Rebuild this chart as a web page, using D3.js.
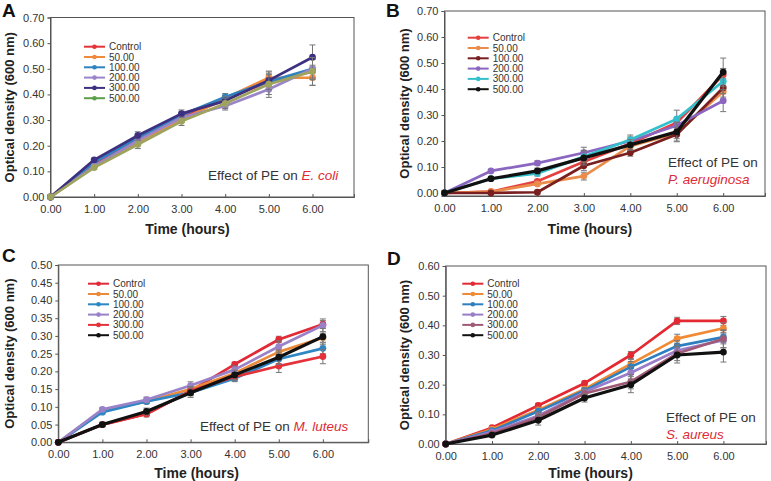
<!DOCTYPE html>
<html><head><meta charset="utf-8">
<script src="https://cdn.jsdelivr.net/npm/d3@7"></script>
<style>
html,body{margin:0;padding:0;background:#fff;}
svg{display:block;font-family:"Liberation Sans",Arial,sans-serif;}
</style></head>
<body>
<svg id="chart" width="771" height="481"></svg>
<script>
// ---------- data ----------
const hours = [0, 1, 2, 3, 4, 5, 6];
const seriesNames = ["Control", "50.00", "100.00", "200.00", "300.00", "500.00"];
const xTickLabels = ["0.00", "1.00", "2.00", "3.00", "4.00", "5.00", "6.00"];

// Panel A: E. coli
const aControl = [0, 0.13, 0.23, 0.31, 0.38, 0.45, 0.49];
const a50      = [0, 0.12, 0.21, 0.30, 0.385, 0.465, 0.465];
const a100     = [0, 0.135, 0.23, 0.32, 0.39, 0.45, 0.50];
const a200     = [0, 0.12, 0.22, 0.31, 0.355, 0.42, 0.50];
const a300     = [0, 0.145, 0.24, 0.325, 0.375, 0.455, 0.545];
const a500     = [0, 0.115, 0.205, 0.295, 0.365, 0.44, 0.49];
const aErr     = [0, 0.005, 0.012, 0.012, 0.015, 0.03, 0.04];
const aYTicks  = [0, 0.1, 0.2, 0.3, 0.4, 0.5, 0.6, 0.7];

// Panel B: P. aeruginosa
const bControl = [0, 0.005, 0.045, 0.12, 0.19, 0.27, 0.455];
const b50      = [0, 0.005, 0.035, 0.065, 0.18, 0.23, 0.39];
const b100     = [0, 0.0, 0.003, 0.105, 0.155, 0.225, 0.405];
const b200     = [0, 0.085, 0.115, 0.155, 0.20, 0.26, 0.355];
const b300     = [0, 0.055, 0.075, 0.14, 0.205, 0.285, 0.43];
const b500     = [0, 0.055, 0.085, 0.135, 0.185, 0.235, 0.465];
const bErr     = [0, 0.005, 0.008, 0.02, 0.015, 0.028, 0.04];
const bYTicks  = [0, 0.1, 0.2, 0.3, 0.4, 0.5, 0.6, 0.7];

// Panel C: M. luteus
const cControl = [0, 0.05, 0.08, 0.145, 0.22, 0.29, 0.333];
const c50      = [0, 0.09, 0.115, 0.15, 0.195, 0.255, 0.295];
const c100     = [0, 0.085, 0.115, 0.14, 0.18, 0.235, 0.265];
const c200     = [0, 0.093, 0.12, 0.16, 0.205, 0.27, 0.33];
const c300     = [0, 0.05, 0.08, 0.145, 0.185, 0.215, 0.242];
const c500     = [0, 0.05, 0.087, 0.14, 0.19, 0.24, 0.298];
const cErr     = [0, 0.005, 0.007, 0.01, 0.01, 0.015, 0.017];
const cYTicks  = [0, 0.05, 0.1, 0.15, 0.2, 0.25, 0.3, 0.35, 0.4, 0.45, 0.5];

// Panel D: S. aureus
const dControl = [0, 0.055, 0.13, 0.205, 0.30, 0.415, 0.415];
const d50      = [0, 0.05, 0.115, 0.185, 0.27, 0.355, 0.39];
const d100     = [0, 0.045, 0.11, 0.18, 0.26, 0.33, 0.36];
const d200     = [0, 0.04, 0.095, 0.175, 0.24, 0.315, 0.35];
const d300     = [0, 0.035, 0.09, 0.17, 0.21, 0.305, 0.355];
const d500     = [0, 0.03, 0.08, 0.155, 0.20, 0.30, 0.31];
const dErr     = [0, 0.005, 0.012, 0.01, 0.02, 0.02, 0.025];
const dYTicks  = [0, 0.1, 0.2, 0.3, 0.4, 0.5, 0.6];

// ---------- layout / style ----------
const svg = d3.select("#chart");
const panels = [
  { letter: "A", lx: 2, ly: 17, series: [aControl, a50, a100, a200, a300, a500], err: aErr, yTicks: aYTicks,
    colors: ["#e3343a", "#f08a3c", "#2f83c0", "#9b85c9", "#3d3080", "#9ea45e"],
    legendColors: ["#e3343a", "#f08a3c", "#2f83c0", "#9b85c9", "#3d3080", "#5d9e4a"],
    x0: 50.5, x1: 354, xMax: 6.95, yTop: 17.5, yBot: 197, yMin: 0, yMax: 0.7,
    legX: 84, legY: 46.7, titleX: 9, timeY: 234,
    note: [["Effect of PE on ", "E. coli"]], noteX: 208, noteY: 180 },
  { letter: "B", lx: 386, ly: 17, series: [bControl, b50, b100, b200, b300, b500], err: bErr, yTicks: bYTicks,
    colors: ["#e44040", "#ea8c4b", "#7a1f1f", "#8a66c0", "#33c0cc", "#111111"],
    x0: 444.5, x1: 765, xMax: 6.9, yTop: 11, yBot: 196, yMin: -0.0115, yMax: 0.7,
    legX: 467.7, legY: 37.7, titleX: 404, timeY: 234,
    note: [["Effect of PE on", ""], ["", "P. aeruginosa"]], noteX: 668, noteY: 167 },
  { letter: "C", lx: 2, ly: 262, series: [cControl, c50, c100, c200, c300, c500], err: cErr, yTicks: cYTicks,
    colors: ["#e02a36", "#ea8a3a", "#2e87c5", "#9a82c8", "#e3323a", "#111111"],
    x0: 58.3, x1: 368.3, xMax: 7.03, yTop: 265, yBot: 442.3, yMin: 0, yMax: 0.5,
    legX: 88, legY: 283.7, titleX: 9, timeY: 478,
    note: [["Effect of PE on ", "M. luteus"]], noteX: 200, noteY: 431 },
  { letter: "D", lx: 387, ly: 265, series: [dControl, d50, d100, d200, d300, d500], err: dErr, yTicks: dYTicks,
    colors: ["#e32a33", "#f08a35", "#2e7fc0", "#9a7cc8", "#a05a75", "#111111"],
    x0: 445.7, x1: 766, xMax: 6.92, yTop: 266, yBot: 444, yMin: 0, yMax: 0.6,
    legX: 462.3, legY: 283.7, titleX: 404, timeY: 478,
    note: [["Effect of PE on", ""], ["", "S. aureus"]], noteX: 666, noteY: 422 }
];

panels.forEach(p => {
  const g = svg.append("g");
  const x = d3.scaleLinear().domain([0, p.xMax]).range([p.x0, p.x1]);
  const y = d3.scaleLinear().domain([p.yMin, p.yMax]).range([p.yBot, p.yTop]);

  // frame
  g.append("rect").attr("x", p.x0).attr("y", p.yTop)
    .attr("width", p.x1 - p.x0).attr("height", p.yBot - p.yTop)
    .attr("fill", "none").attr("stroke", "#555").attr("stroke-width", 1);

  // axes
  const xAxis = d3.axisBottom(x).tickValues(hours).tickSize(-3).tickPadding(8)
    .tickFormat((d, i) => xTickLabels[i]);
  const gx = g.append("g").attr("transform", `translate(0,${p.yBot})`).call(xAxis);
  const yAxis = d3.axisLeft(y).tickValues(p.yTicks).tickSize(3).tickPadding(3)
    .tickFormat(d3.format(".2f"));
  const gy = g.append("g").attr("transform", `translate(${p.x0},0)`).call(yAxis);
  [gx, gy].forEach(a => {
    a.select(".domain").attr("stroke", "#555");
    a.selectAll(".tick line").attr("stroke", "#555");
    a.selectAll(".tick text").attr("fill", "#333").style("font-size", "11px")
      .style("font-family", "'Liberation Sans',Arial,sans-serif");
  });

  // series
  const line = d3.line().x((d, i) => x(hours[i])).y(d => y(d));
  p.series.forEach((vals, si) => {
    const col = p.colors[si];
    const eg = g.append("g");
    vals.forEach((v, i) => {
      const e = p.err[i] * (0.6 + 0.15 * si);
      if (e <= 0) return;
      const cx = x(hours[i]);
      eg.append("line").attr("x1", cx).attr("x2", cx).attr("y1", y(v - e)).attr("y2", y(v + e))
        .attr("stroke", "#777").attr("stroke-width", 1);
      [v - e, v + e].forEach(w => eg.append("line").attr("x1", cx - 3).attr("x2", cx + 3)
        .attr("y1", y(w)).attr("y2", y(w)).attr("stroke", "#777").attr("stroke-width", 1));
    });
    const lw = col === "#111111" ? 3.2 : 2.7;
    g.append("path").datum(vals).attr("d", line).attr("fill", "none")
      .attr("stroke", col).attr("stroke-width", lw).attr("stroke-linejoin", "round");
    g.append("g").selectAll("circle").data(vals).join("circle")
      .attr("cx", (d, i) => x(hours[i])).attr("cy", d => y(d)).attr("r", 3.4).attr("fill", col);
  });

  // legend
  const lg = g.append("g");
  const legCols = p.legendColors || p.colors;
  seriesNames.forEach((name, i) => {
    const yy = p.legY + i * 10.3;
    lg.append("line").attr("x1", p.legX).attr("x2", p.legX + 21).attr("y1", yy).attr("y2", yy)
      .attr("stroke", legCols[i]).attr("stroke-width", 2);
    lg.append("circle").attr("cx", p.legX + 10.5).attr("cy", yy).attr("r", 2.3).attr("fill", legCols[i]);
    lg.append("text").attr("x", p.legX + 25).attr("y", yy + 3.5).text(name)
      .attr("fill", "#333").style("font-size", "10px");
  });

  // annotation
  p.note.forEach((parts, li) => {
    const t = g.append("text").attr("x", p.noteX).attr("y", p.noteY + li * 17)
      .style("font-size", "13.5px");
    if (parts[0]) t.append("tspan").text(parts[0]).attr("fill", "#333");
    if (parts[1]) t.append("tspan").text(parts[1]).attr("fill", "#e02a36").style("font-style", "italic");
  });

  // titles
  g.append("text").attr("x", p.lx).attr("y", p.ly).text(p.letter)
    .style("font-size", "19px").style("font-weight", "bold").attr("fill", "#111");
  g.append("text").attr("transform", `translate(${p.titleX},${(p.yTop + p.yBot) / 2}) rotate(-90)`)
    .attr("text-anchor", "middle").attr("dy", "0.35em").text("Optical density (600 nm)")
    .style("font-size", "13px").style("font-weight", "bold").attr("fill", "#222");
  g.append("text").attr("x", (p.x0 + x(6)) / 2 + 6).attr("y", p.timeY).attr("text-anchor", "middle")
    .text("Time (hours)").style("font-size", "14px").style("font-weight", "bold").attr("fill", "#222");
});
</script>
</body></html>
